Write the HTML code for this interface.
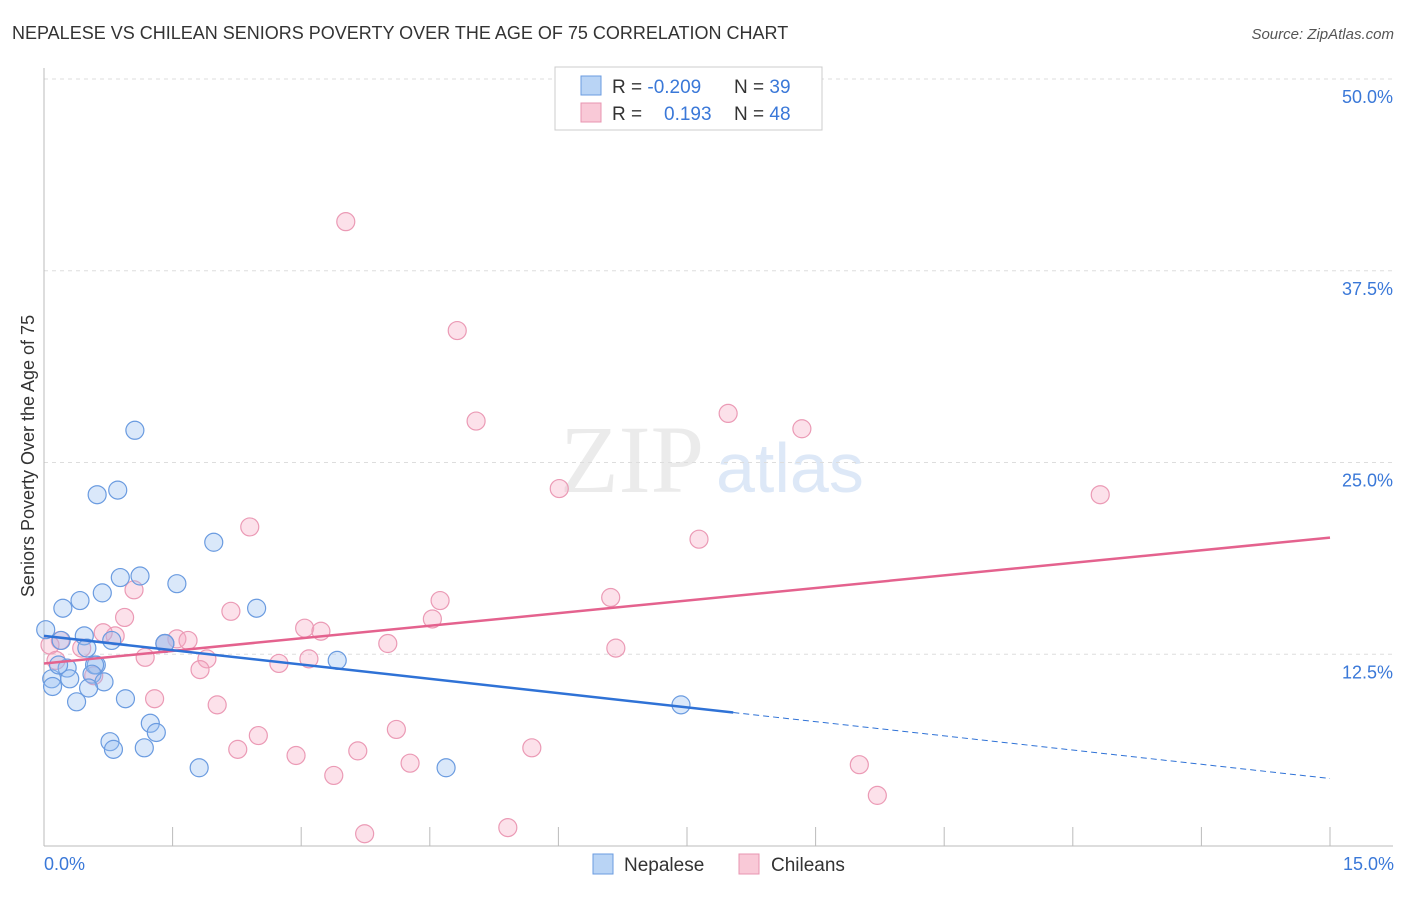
<!DOCTYPE html>
<html><head><meta charset="utf-8"><style>
body{margin:0;background:#fff;font-family:"Liberation Sans",sans-serif}
</style></head><body>
<svg width="1406" height="892" xmlns="http://www.w3.org/2000/svg" font-family="Liberation Sans, sans-serif">
<text x="12" y="39" font-size="18" fill="#333">NEPALESE VS CHILEAN SENIORS POVERTY OVER THE AGE OF 75 CORRELATION CHART</text>
<text x="1394" y="39" font-size="15" fill="#555" text-anchor="end" font-style="italic">Source: ZipAtlas.com</text>
<text x="560" y="492" font-size="96" fill="#ebebeb" font-family="Liberation Serif, serif">ZIP</text>
<text x="716" y="492" font-size="70" fill="#dde8f7">atlas</text>
<g id="grid"></g>
<line x1="44" y1="68" x2="44" y2="846" stroke="#bbb"/>
<line x1="44" y1="846" x2="1393" y2="846" stroke="#bbb"/>
<text transform="translate(34,456) rotate(-90)" font-size="18" fill="#333" text-anchor="middle">Seniors Poverty Over the Age of 75</text>
<text x="44" y="870" font-size="18" fill="#3a78d8">0.0%</text>
<text x="1394" y="870" font-size="18" fill="#3a78d8" text-anchor="end">15.0%</text>
<g id="pts"></g>
<g id="trend"></g>
<g>
<rect x="555" y="67" width="267" height="63" fill="#fff" stroke="#ccc"/>
<rect x="581" y="76" width="20" height="19" fill="#b9d4f5" stroke="#6a9be0"/>
<rect x="581" y="103" width="20" height="19" fill="#f9c9d7" stroke="#e895b0"/>
<text x="612" y="93" font-size="19" fill="#333">R = <tspan fill="#3a78d8">-0.209</tspan></text>
<text x="734" y="93" font-size="19" fill="#333">N = <tspan fill="#3a78d8">39</tspan></text>
<text x="612" y="120" font-size="19" fill="#333">R = <tspan fill="#3a78d8" x="664">0.193</tspan></text>
<text x="734" y="120" font-size="19" fill="#333">N = <tspan fill="#3a78d8">48</tspan></text>
</g>
<g>
<rect x="593" y="854" width="20" height="20" fill="#b9d4f5" stroke="#6a9be0"/>
<text x="624" y="871" font-size="19" fill="#333">Nepalese</text>
<rect x="739" y="854" width="20" height="20" fill="#f9c9d7" stroke="#e895b0"/>
<text x="771" y="871" font-size="19" fill="#333">Chileans</text>
</g>
</svg>
<script>
const yTicks=[12.5,25,37.5,50];
const xTicks=[0,1.5,3,4.5,6,7.5,9,10.5,12,13.5,15];
const nepX=[0.02,0.2,0.47,0.61,1.06,0.62,0.86,1.98,0.89,1.12,1.55,0.68,0.42,0.22,2.48,1.41,0.79,0.5,0.09,0.1,0.27,0.3,0.59,0.56,0.7,0.52,0.95,0.38,1.24,1.31,0.77,0.81,1.17,1.81,4.69,7.43,3.42,1.41,0.17];
const nepY=[14.1,13.4,13.7,11.8,27.1,22.9,23.2,19.8,17.5,17.6,17.1,16.5,16.0,15.5,15.5,13.2,13.4,12.9,10.9,10.4,11.6,10.9,11.8,11.2,10.7,10.3,9.6,9.4,8.0,7.4,6.8,6.3,6.4,5.1,5.1,9.2,12.1,13.2,11.8];
const chiX=[3.52,4.82,5.04,7.98,8.84,6.01,12.32,2.4,7.64,1.05,0.94,2.18,4.62,6.61,4.53,3.04,3.23,1.55,1.68,0.83,0.69,1.41,0.44,0.19,0.07,0.14,1.18,1.9,1.82,2.74,3.09,4.01,6.67,0.58,1.29,2.02,2.5,4.11,2.26,2.94,3.66,4.27,3.38,5.69,9.51,9.72,3.74,5.41];
const chiY=[40.7,33.6,27.7,28.2,27.2,23.3,22.9,20.8,20.0,16.7,14.9,15.3,16.0,16.2,14.8,14.2,14.0,13.5,13.4,13.7,13.9,13.2,12.9,13.4,13.1,12.1,12.3,12.2,11.5,11.9,12.2,13.2,12.9,11.1,9.6,9.2,7.2,7.6,6.3,5.9,6.2,5.4,4.6,6.4,5.3,3.3,0.8,1.2];
const X=v=>44+v*(1286/15), Y=v=>846-v*(767/50);
const NS='http://www.w3.org/2000/svg';
function mk(t,a,p){const e=document.createElementNS(NS,t);for(const k in a)e.setAttribute(k,a[k]);p.appendChild(e);return e;}
const g=document.getElementById('grid');
yTicks.forEach(t=>{
 const l=mk('line',{x1:44,x2:1393,y1:Y(t),y2:Y(t),stroke:'#ddd','stroke-dasharray':'4,4'},g);
 
 
 const tx=mk('text',{x:1393,y:Y(t)+24,'font-size':18,fill:'#3a78d8','text-anchor':'end'},g);
 tx.textContent=t.toFixed(1)+'%';
 
 
});
xTicks.forEach(t=>{
 const l=mk('line',{x1:X(t),x2:X(t),y1:827,y2:846,stroke:'#bbb'},g);
 
 
});
const p=document.getElementById('pts');
chiX.forEach((v,i)=>{const c=mk('circle',{cx:X(v),cy:Y(chiY[i]),r:9,fill:'rgba(246,170,195,0.35)',stroke:'#eb9ab5','stroke-width':1.2},p);
 
 });
nepX.forEach((v,i)=>{const c=mk('circle',{cx:X(v),cy:Y(nepY[i]),r:9,fill:'rgba(150,190,240,0.35)',stroke:'#6a9be0','stroke-width':1.2},p);
 
 });
const tr=document.getElementById('trend');
let l=mk('line',{x1:X(0),y1:Y(11.9),x2:X(15),y2:Y(20.1),stroke:'#e4628e','stroke-width':2.5},tr);


l=mk('line',{x1:X(0),y1:Y(13.7),x2:X(8.04),y2:Y(8.7),stroke:'#2f72d6','stroke-width':2.5},tr);


l=mk('line',{x1:X(8.04),y1:Y(8.7),x2:X(15),y2:Y(4.4),stroke:'#2f72d6','stroke-width':1,'stroke-dasharray':'6,4'},tr);


</script>
</body></html>
